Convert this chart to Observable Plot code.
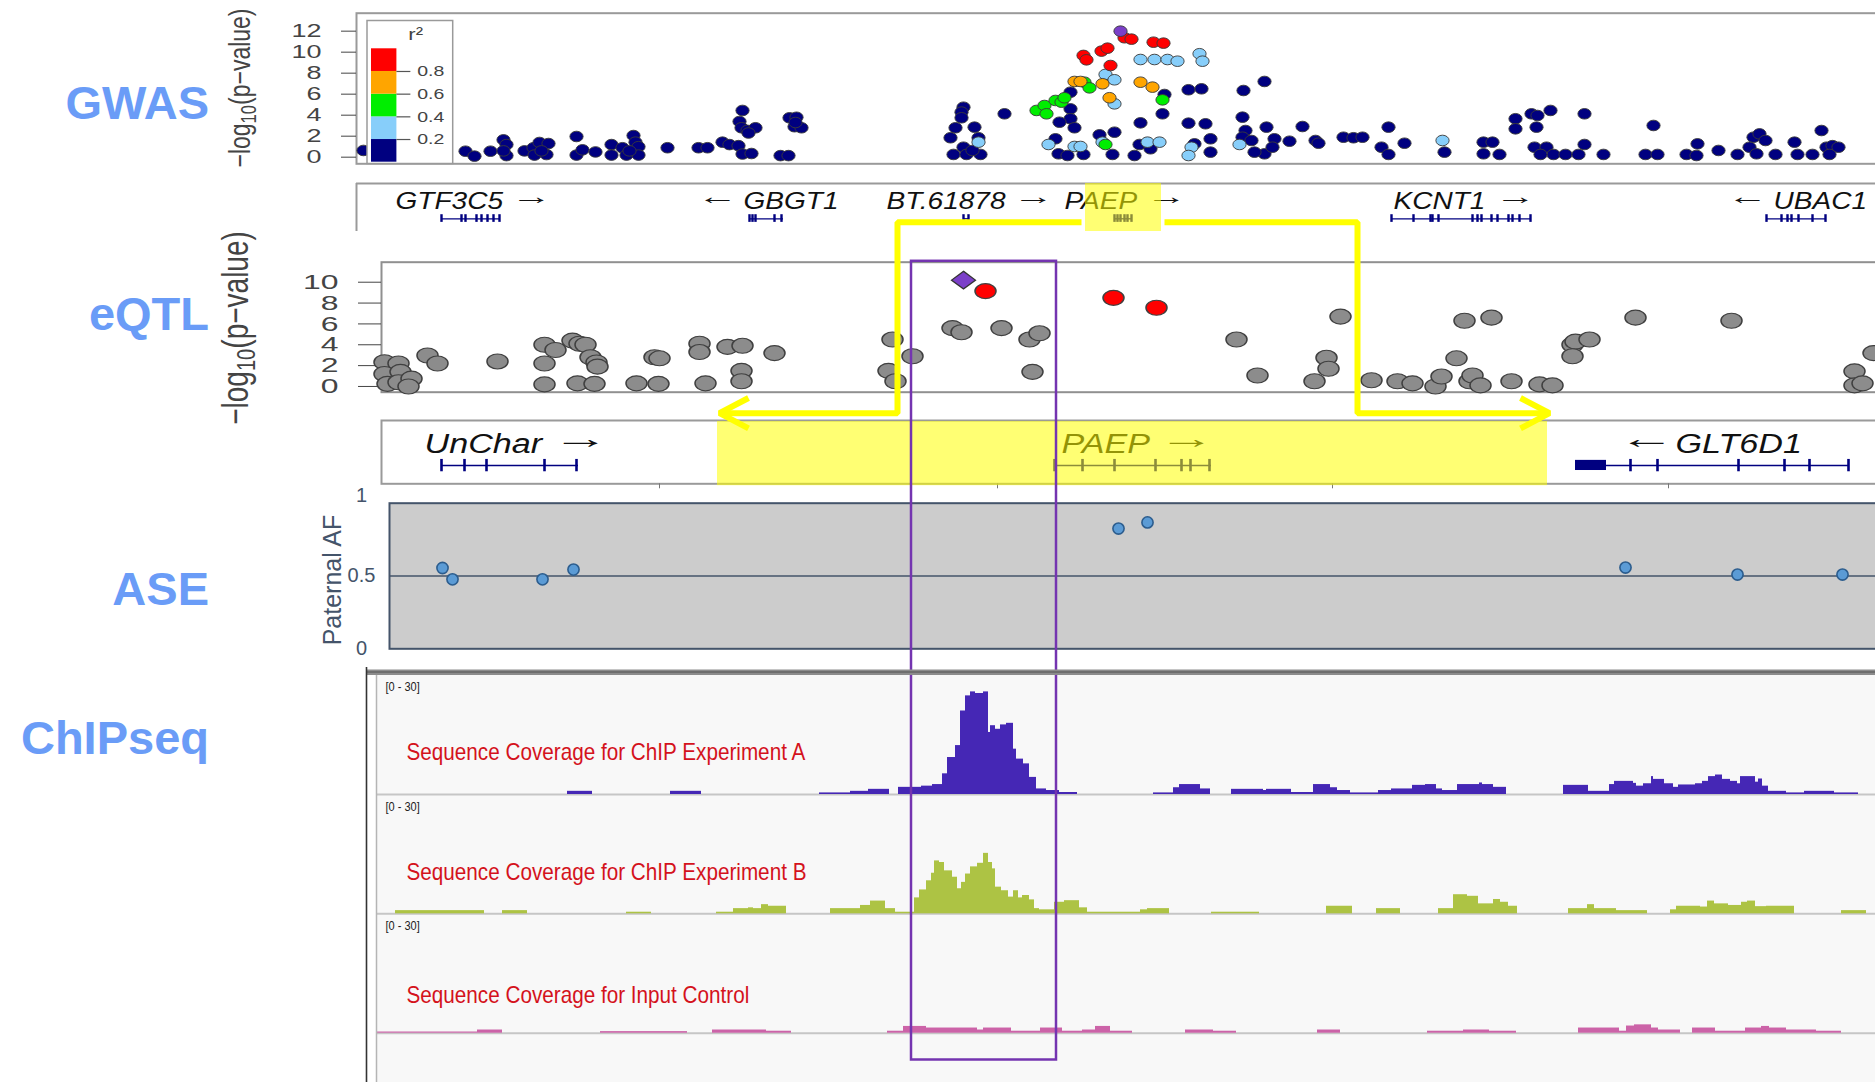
<!DOCTYPE html>
<html><head><meta charset="utf-8">
<script src="https://cdn.jsdelivr.net/npm/d3@7"></script>
<script src="https://cdn.jsdelivr.net/npm/@observablehq/plot@0.6"></script>
<style>
html,body{margin:0;padding:0;background:#fff;}
#wrap{position:relative;width:1875px;height:1082px;overflow:hidden;background:#fff;}
</style></head>
<body><div id="wrap"></div>
<script>
// ---------------- DATA ----------------
// GWAS: [position (kb from left of GWAS window), -log10 p], grouped by LD r² class
const gwasNavy = [[7,0.64],[109,0.57],[118,0.1],[134,0.57],[147,1.65],[150,1.2],[150,0.15],[147,0.6],[168,0.6],[177,0.9],[183,1.4],[178,0.2],[190,0.25],[192,1.3],[185,0.6],[220,1.97],[220,0.2],[226,0.7],[239,0.5],[255,1.2],[255,0.2],[266,0.9],[270,0.2],[277,2.06],[279,1.43],[282,1.0],[282,0.2],[273,0.6],[311,0.9],[342,0.9],[351,0.9],[366,1.43],[373,1.2],[382,1.1],[386,4.45],[383,3.4],[385,2.8],[391,2.55],[399,2.8],[392,2.3],[386,0.3],[395,0.35],[424,0.15],[432,0.15],[433,3.75],[440,3.8],[438,2.9],[445,2.8],[439,3.3],
[607,4.76],[605,4.29],[605,3.75],[599,2.8],[618,2.86],[594,1.85],[622,1.85],[607,0.95],[597,0.26],[610,0.26],[624,0.26],[616,0.64],[648,4.13],[714,6.19],[714,4.6],[714,3.66],[703,3.33],[718,2.8],[808,5.97],[806,4.13],[784,3.27],[832,6.42],[845,6.51],[887,6.35],[908,7.21],[832,3.24],[849,3.18],[886,3.81],[889,2.54],[699,1.75],[702,0.32],[711,0.16],[727,0.26],[743,2.13],[758,2.38],[756,0.26],[778,0.16],[783,1.21],[794,0.8],[838,1.27],[854,1.75],[854,0.48],[886,1.9],[895,1.59],[910,2.86],[918,1.75],[933,1.52],[908,0.32],[916,0.95],[898,0.48],[946,2.92],[959,1.59],[962,1.33],[987,1.9],[997,1.85],[1006,1.9],[1032,2.86],[1025,0.95],[1032,0.26],[1048,1.33],[1088,0.48],[1127,1.43],[1136,1.43],[1127,0.32],[1143,0.26],[1159,3.66],[1159,2.7],[1175,4.13],[1181,3.97],[1180,2.86],[1194,4.45],[1178,0.95],[1190,0.95],[1197,0.26],[1209,0.26],[1184,0.26],[1228,4.13],[1228,1.21],[1222,0.26],[1247,0.26],[1289,0.26],[1297,3.02],[1301,0.26],[1330,0.26],[1341,1.27],[1340,0.16],[1362,0.64],[1381,0.26],[1397,1.9],[1403,2.22],[1409,1.59],[1393,0.95],[1400,0.32],[1419,0.26],[1438,1.43],[1441,0.26],[1456,0.26],[1465,2.54],[1470,0.95],[1476,1.1],[1482,0.95],[1473,0.26]];
const gwasLightBlue = [[622,1.43],[749,7.88],[758,7.37],[758,5.08],[784,9.3],[798,9.3],[811,9.3],[821,9.14],[843,9.85],[846,9.14],[692,1.21],[718,1.02],[724,1.02],[746,1.43],[791,1.43],[803,1.43],[835,0.95],[832,0.16],[883,1.21],[1086,1.59]];
const gwasGreen = [[680,4.45],[688,4.92],[690,4.13],[699,5.4],[705,5.24],[708,5.66],[728,7.14],[733,6.6],[806,5.46],[749,1.21]];
const gwasOrange = [[718,7.21],[724,7.21],[746,6.99],[753,5.66],[784,7.14],[796,6.67]];
const gwasRed = [[727,9.69],[730,9.27],[745,10.1],[751,10.38],[754,8.73],[768,11.37],[775,11.24],[797,10.95],[807,10.86]];
const gwasLead = [[764,12.0]];
const gwasTicks = [0,2,4,6,8,10,12];
const r2Classes = [
  {lo:0.0, hi:0.2, color:"#000080"},
  {lo:0.2, hi:0.4, color:"#87cefa"},
  {lo:0.4, hi:0.6, color:"#00ee00"},
  {lo:0.6, hi:0.8, color:"#ffa500"},
  {lo:0.8, hi:1.0, color:"#ff0000"}
];
const r2Ticks = [0.2,0.4,0.6,0.8];
const leadColor = "#7b3fc8";

// GWAS gene track (same coordinates as GWAS)
const gwasGenes = [
  {name:"GTF3C5", namePos:39, arrow:"→", arrowPos:154, start:85, end:144},
  {name:"GBGT1", namePos:387, arrow:"←", arrowPos:340, start:393, end:427},
  {name:"BT.61878", namePos:530, arrow:"→", arrowPos:656, start:607, end:613},
  {name:"PAEP", namePos:708, arrow:"→", arrowPos:789, start:758, end:775},
  {name:"KCNT1", namePos:1037, arrow:"→", arrowPos:1138, start:1035, end:1174},
  {name:"UBAC1", namePos:1417, arrow:"←", arrowPos:1370, start:1410, end:1469}
];
const gwasExons = [85,105,109,120,125,131,137,143, 393,396,399,418,425, 607,612, 758,761,764,768,771,775,
  1035,1057,1074,1076,1082,1116,1121,1125,1135,1141,1152,1156,1163,1174, 1410,1425,1431,1435,1442,1456,1469];
const gwasHighlight = [{start:729, end:805}];

// eQTL: [position (kb, zoomed window), -log10 p]
const eqtlGray = [[9,2.33],[23,2.2],[9,1.2],[25,1.4],[12,0.25],[23,0.4],[36,0.75],[33,0.0],[52,2.97],[62,2.2],[122,2.4],[169,4.0],[180,3.5],[169,2.2],[169,0.2],[197,4.4],[204,4.1],[210,4.0],[215,2.8],[221,2.3],[222,1.9],[202,0.3],[219,0.25],[261,0.3],[279,2.8],[284,2.7],[283,0.25],[324,4.1],[324,3.3],[330,0.3],[352,3.8],[367,3.9],[366,1.5],[366,0.5],[399,3.2],[517,4.5],[537,2.9],[513,1.5],[520,0.5],[577,5.6],[586,5.2],[626,5.6],[654,4.5],[664,5.1],[657,1.4],[861,4.5],[882,1.05],[939,0.5],[951,2.75],[953,1.7],[965,6.7],[996,0.6],[1022,0.5],[1037,0.3],[1060,0.0],[1066,0.95],[1081,2.7],[1089,6.3],[1116,6.6],[1094,0.5],[1097,1.05],[1105,0.1],[1136,0.5],[1164,0.2],[1177,0.1],[1197,4.0],[1200,4.3],[1197,2.9],[1214,4.5],[1260,6.6],[1356,6.3],[1479,1.45],[1479,0.1],[1498,3.2],[1487,0.3]];
const eqtlRed = [[610,9.15],[738,8.5],[781,7.55]];
const eqtlLead = [[588,10.2]];
const eqtlTicks = [0,2,4,6,8,10];

// Lower gene track (same coordinates as eQTL / ASE / ChIP)
const lowerGenes = [
  {name:"UnChar", namePos:49, arrow:"→", arrowPos:177, start:66, end:203},
  {name:"PAEP", namePos:686, arrow:"→", arrowPos:783, start:679, end:836},
  {name:"GLT6D1", namePos:1300, arrow:"←", arrowPos:1243, start:1200, end:1474}
];
const lowerExons = [66,89,111,169,201, 679,707,739,780,806,815,834, 1255,1282,1363,1409,1434,1473];
const lowerUTR = [{start:1200, end:1231}];
const lowerHighlight = [{start:342, end:1172}];
const lowerTicks = [284,622,957,1293];

// ASE: [position, paternal allele fraction]
const ase = [[67,0.555],[77,0.477],[167,0.477],[198,0.544],[743,0.826],[772,0.868],[1250,0.558],[1362,0.51],[1467,0.51]];
const aseTicks = [0,0.5,1];

// ChIP-seq coverage bins: [start, end, coverage]
const chipA = [[192,217,0.8],[295,326,0.8],[444,475,0.4],[475,493,0.8],[493,514,1.3],[523,546,1.8],[546,557,2.1],[557,567,2.5],[567,572,5.2],[572,580,9.3],[580,585,12.3],[585,590,21],[590,595,24.8],[595,600,25.8],[600,608,25.4],[608,613,25.8],[613,615,15.6],[615,620,17.3],[620,625,16.4],[625,631,17.5],[631,638,17.9],[638,641,11.4],[641,648,8.9],[648,654,7.7],[654,661,4.3],[661,671,1.4],[671,684,1],[684,702,0.5],
[778,798,0.4],[798,804,1.7],[804,825,2.5],[825,835,1.4],[856,888,1.3],[888,891,1],[891,916,1.3],[916,938,0.5],[938,955,2.5],[955,962,1.7],[962,975,1],[975,1003,0.4],[1003,1016,1],[1016,1037,1.4],[1037,1050,2.3],[1050,1061,2.5],[1061,1067,1.4],[1067,1082,1],[1082,1104,2.5],[1104,1107,2.9],[1107,1118,2.5],[1118,1131,1.8],
[1188,1213,2.3],[1213,1234,0.8],[1234,1239,2.5],[1239,1258,3.3],[1258,1261,2.8],[1261,1268,2.1],[1268,1276,2.7],[1276,1278,4.5],[1278,1289,3.8],[1289,1298,2.7],[1298,1303,1.8],[1303,1320,2.4],[1320,1327,2.7],[1327,1333,3.3],[1333,1340,4.5],[1340,1347,4.9],[1347,1355,3.8],[1355,1362,3.3],[1362,1365,2.7],[1365,1380,4.5],[1380,1383,3.1],[1383,1387,3.9],[1387,1393,2.1],[1393,1411,0.8],[1411,1429,0.4],[1429,1459,0.8],[1459,1483,0.4]];
const chipB = [[20,109,0.8],[127,152,0.8],[251,276,0.4],[341,358,0.4],[358,373,1.3],[373,378,1.5],[378,386,1.3],[386,393,2.3],[393,411,1.9],[455,485,1.3],[485,495,2.1],[495,510,3.2],[510,520,1.3],[520,539,0.4],[539,544,4],[544,551,6],[551,556,8.3],[556,559,10.2],[559,564,13.3],[564,569,12.9],[569,577,10.8],[577,582,9.2],[582,586,6.3],[586,590,7.9],[590,595,10],[595,602,11.8],[602,608,12.7],[608,613,15.2],[613,617,12.9],[617,620,11.3],[620,626,6.7],[626,633,5.8],[633,638,4.2],[638,643,5.8],[643,647,4],[647,654,4.6],[654,659,3.5],[659,664,1.3],[664,679,1],[679,689,2.9],[689,704,3.3],[704,712,1.5],[712,765,0.4],[765,772,1],[772,794,1.3],[836,884,0.4],[951,977,1.9],[1001,1025,1.3],[1063,1078,1.3],[1078,1092,4.8],[1092,1103,4.4],[1103,1118,2.5],[1118,1125,3.6],[1125,1133,2.9],[1133,1142,1.9],[1193,1212,1.3],[1212,1219,2.3],[1219,1241,1.3],[1241,1272,0.8],[1295,1301,1],[1301,1325,1.9],[1325,1332,1.7],[1332,1339,3.2],[1339,1353,2.5],[1353,1366,2.1],[1366,1372,2.9],[1372,1380,3.2],[1380,1391,1.8],[1391,1419,1.9],[1466,1491,0.8]];
const chipInput = [[2,102,0.3],[102,127,0.8],[225,312,0.4],[337,391,0.8],[391,416,0.5],[512,528,0.5],[528,551,1.7],[551,602,1.3],[602,608,0.8],[608,636,1.3],[636,665,0.5],[665,687,1.3],[687,707,0.5],[707,720,0.8],[720,735,1.7],[735,757,0.5],[810,838,0.8],[838,861,0.5],[942,965,0.8],[1052,1088,0.5],[1088,1114,0.8],[1114,1141,0.5],[1203,1244,1.3],[1244,1251,0.5],[1251,1259,1.8],[1259,1276,2.1],[1276,1283,1.3],[1283,1305,0.8],[1317,1340,1.3],[1340,1370,0.5],[1370,1386,1.3],[1386,1394,1.7],[1394,1411,1.3],[1411,1441,0.8],[1441,1466,0.5]];
const chipTracks = [
  {label:"Sequence Coverage for ChIP Experiment A", color:"#4527b5", bins:chipA},
  {label:"Sequence Coverage for ChIP Experiment B", color:"#adc344", bins:chipB},
  {label:"Sequence Coverage for Input Control", color:"#cc63a8", bins:chipInput}
];
const chipRange = "[0 - 30]";

// Annotations (lower-window x, page-row y)
const connector = [
  {seg:"L",x:706,y:221.7},{seg:"L",x:522,y:221.7},{seg:"L",x:522,y:412.7},{seg:"L",x:346,y:412.7},
  {seg:"LA",x:373,y:397.5},{seg:"LA",x:344,y:412.7},{seg:"LA",x:373,y:427.9},
  {seg:"R",x:789,y:221.7},{seg:"R",x:982,y:221.7},{seg:"R",x:982,y:412.7},{seg:"R",x:1172,y:412.7},
  {seg:"RA",x:1145,y:397.5},{seg:"RA",x:1174,y:412.7},{seg:"RA",x:1145,y:427.9}
];
const focusBox = [{start:536, end:681, top:260.8, bottom:1059.5}];
const sectionLabels = [{text:"GWAS", y:119},{text:"eQTL", y:330},{text:"ASE", y:605},{text:"ChIPseq", y:754}];

// ---------------- HELPERS ----------------
const wrap = document.getElementById("wrap");
const FONT = "'Liberation Sans', Arial, Helvetica, sans-serif";
const base = {position:"absolute", left:"0px", top:"0px", background:"transparent", maxWidth:"none", overflow:"visible", fontFamily:FONT, color:"#444"};
function add(node){ wrap.appendChild(node); return node; }
function stretchEl(el, sx, sy){
  if (el.tagName === "circle") {
    const cx = +el.getAttribute("cx"), cy = +el.getAttribute("cy");
    el.setAttribute("transform", `translate(${cx},${cy}) scale(${sx},${sy}) translate(${-cx},${-cy})`);
  } else {
    const t = el.getAttribute("transform") || "";
    const x = parseFloat(el.getAttribute("x")) || 0;
    el.setAttribute("transform", `${t} translate(${x},0) scale(${sx},${sy}) translate(${-x},0)`);
  }
}
function marked(svg, name){
  const els = [];
  svg.querySelectorAll(`g[aria-description="${name}"], g[aria-label="${name}"]`).forEach(g =>
    g.querySelectorAll("circle,path,text").forEach(c => els.push(c)));
  return els;
}
function stretch(svg, name, sx, sy=1){ marked(svg, name).forEach(el => stretchEl(el, sx, sy)); }
function stretchToWidth(svg, name, w){ marked(svg, name).forEach(el => { const L = el.getComputedTextLength(); if (L > 0) stretchEl(el, w / L, 1); }); }
const X = d => d[0], Y = d => d[1];
const W = 1890, H = 1082;

// ---------------- UNDERLAY (ChIP background) ----------------
const underSvg = d3.create("svg").attr("width",1875).attr("height",H).style("position","absolute").style("left","0").style("top","0");
underSvg.append("rect").attr("x",377).attr("y",675).attr("width",1498).attr("height",407).attr("fill","#f8f8f8");
add(underSvg.node());

// ---------------- GWAS ----------------
const dotOpts = {x:X, y:Y, r:5.3, stroke:"#3a3a3a", strokeWidth:0.8, ariaDescription:"gwas-dots"};
const gwas = Plot.plot({
  width:W, height:H, marginLeft:356, marginRight:0, marginTop:12.7, marginBottom:H-163.3, style:base,
  x:{domain:[0,1534], axis:null}, y:{domain:[-0.63,13.71], label:null},
  marks:[
    Plot.frame({stroke:"#9a9a9a", strokeWidth:2}),
    Plot.axisY({ticks:gwasTicks, tickSize:15, tickPadding:20, fontSize:19, label:null}),
    Plot.dot(gwasNavy, {...dotOpts, fill:r2Classes[0].color}),
    Plot.dot(gwasLightBlue, {...dotOpts, fill:r2Classes[1].color}),
    Plot.dot(gwasGreen, {...dotOpts, fill:r2Classes[2].color}),
    Plot.dot(gwasOrange, {...dotOpts, fill:r2Classes[3].color}),
    Plot.dot(gwasRed, {...dotOpts, fill:r2Classes[4].color}),
    Plot.dot(gwasLead, {...dotOpts, fill:leadColor})
  ]
});
stretch(gwas, "gwas-dots", 1.25);
stretch(gwas, "y-axis tick label", 1.42);
add(gwas);

// Legend (r² colour key)
const legend = Plot.plot({
  width:1875, height:H, marginLeft:366.5, marginRight:1875-452.2, marginTop:20, marginBottom:H-163, style:base,
  x:{domain:[0,1], range:[371,396.4], axis:null}, y:{domain:[0,1], range:[161.7,48.3], axis:null},
  marks:[
    Plot.frame({fill:"#fff", stroke:"#9a9a9a", strokeWidth:1.5}),
    Plot.rect(r2Classes, {x1:()=>0, x2:()=>1, y1:"lo", y2:"hi", fill:"color"}),
    Plot.ruleY(r2Ticks, {y:d=>d, x1:()=>1, x2:()=>1.55, stroke:"#555", strokeWidth:1.2}),
    Plot.text(r2Ticks, {y:d=>d, x:()=>1.8, text:d=>d.toFixed(1), textAnchor:"start", fontSize:15, fill:"#444", ariaDescription:"leg-text"}),
    Plot.text(["r²"], {x:()=>1.45, y:()=>1.13, text:d=>d, textAnchor:"start", fontSize:17, fill:"#444", ariaDescription:"leg-text"})
  ]
});
stretch(legend, "leg-text", 1.3);
add(legend);

// GWAS gene track
const genes1 = Plot.plot({
  width:W, height:H, marginLeft:356, marginRight:0, marginTop:183, marginBottom:H-231, style:base,
  x:{domain:[0,1534], axis:null}, y:{domain:[0,1], axis:null},
  marks:[
    Plot.ruleY([1], {stroke:"#9a9a9a", strokeWidth:2}),
    Plot.ruleX([0], {y1:()=>0, y2:()=>1, stroke:"#9a9a9a", strokeWidth:2}),
    Plot.ruleY(gwasGenes, {y:()=>0.265, x1:"start", x2:"end", stroke:"#000080", strokeWidth:1.3}),
    Plot.ruleX(gwasExons, {x:d=>d, y1:()=>0.19, y2:()=>0.35, stroke:"#000080", strokeWidth:2.4}),
    Plot.text(gwasGenes, {x:"namePos", y:()=>0.63, text:"name", textAnchor:"start", fontSize:23, fontStyle:"italic", fill:"#111", ariaDescription:"gene-label"}),
    Plot.text(gwasGenes, {x:"arrowPos", y:()=>0.63, dy:-4.5, text:"arrow", textAnchor:"start", fontSize:23, fill:"#111", ariaDescription:"gene-arrow"}),
    Plot.rect(gwasHighlight, {x1:"start", x2:"end", y1:()=>0, y2:()=>1, fill:"#ffff00", fillOpacity:0.55})
  ]
});
add(genes1);
stretch(genes1, "gene-label", 1.22);
stretchToWidth(genes1, "gene-arrow", 41);

// ---------------- eQTL ----------------
const eqtl = Plot.plot({
  width:W, height:H, marginLeft:381, marginRight:0, marginTop:261.7, marginBottom:H-391.7, style:base,
  x:{domain:[6,1515], axis:null}, y:{domain:[-0.55,11.92], label:null},
  marks:[
    Plot.frame({stroke:"#909090", strokeWidth:2}),
    Plot.axisY({ticks:eqtlTicks, tickSize:23, tickPadding:20, fontSize:21, label:null}),
    Plot.dot(eqtlGray, {x:X, y:Y, r:7.5, fill:"#8c8c8c", stroke:"#404040", strokeWidth:1.1, ariaDescription:"eqtl-dots"}),
    Plot.dot(eqtlRed, {x:X, y:Y, r:7.5, fill:"#ff0000", stroke:"#404040", strokeWidth:1.1, ariaDescription:"eqtl-dots"}),
    Plot.dot(eqtlLead, {x:X, y:Y, symbol:"diamond2", r:8, fill:leadColor, stroke:"#333", strokeWidth:1.1, ariaDescription:"eqtl-lead"})
  ]
});
stretch(eqtl, "eqtl-dots", 1.4);
stretch(eqtl, "eqtl-lead", 1.35);
stretch(eqtl, "y-axis tick label", 1.52);
add(eqtl);

// Lower gene track
const genes2 = Plot.plot({
  width:W, height:H, marginLeft:381, marginRight:0, marginTop:420, marginBottom:H-483.3, style:base,
  x:{domain:[6,1515]}, y:{domain:[0,1], axis:null},
  marks:[
    Plot.frame({stroke:"#9a9a9a", strokeWidth:2}),
    Plot.axisX({ticks:lowerTicks, tickSize:5, tickFormat:()=>"", label:null, stroke:"#777"}),
    Plot.ruleY(lowerGenes, {y:()=>0.289, x1:"start", x2:"end", stroke:"#000080", strokeWidth:1.6}),
    Plot.rect(lowerUTR, {x1:"start", x2:"end", y1:()=>0.21, y2:()=>0.37, fill:"#000080"}),
    Plot.ruleX(lowerExons, {x:d=>d, y1:()=>0.19, y2:()=>0.385, stroke:"#000080", strokeWidth:2.6}),
    Plot.text(lowerGenes, {x:"namePos", y:()=>0.632, text:"name", textAnchor:"start", fontSize:28, fontStyle:"italic", fill:"#111", ariaDescription:"gene-label"}),
    Plot.text(lowerGenes, {x:"arrowPos", y:()=>0.632, dy:-4.5, text:"arrow", textAnchor:"start", fontSize:28, fill:"#111", ariaDescription:"gene-arrow"}),
    Plot.rect(lowerHighlight, {x1:"start", x2:"end", y1:()=>-0.03, y2:()=>0.985, fill:"#ffff00", fillOpacity:0.55})
  ]
});
add(genes2);
stretch(genes2, "gene-label", 1.22);
stretchToWidth(genes2, "gene-arrow", 57);

// ---------------- ASE ----------------
const asePlot = Plot.plot({
  width:W, height:H, marginLeft:389, marginRight:0, marginTop:502.7, marginBottom:H-648.3, style:base,
  x:{domain:[14,1515], axis:null}, y:{domain:[0,1], axis:null},
  marks:[
    Plot.frame({fill:"#cccccc", stroke:"#44546a", strokeWidth:2}),
    Plot.ruleY([0.5], {stroke:"#44546a", strokeWidth:1.5}),
    Plot.dot(ase, {x:X, y:Y, r:5.6, fill:"#5b9bd5", stroke:"#2c5d8e", strokeWidth:1.6}),
    Plot.text(aseTicks.filter(d => d < 1), {y:d=>d, text:d=>String(d), frameAnchor:"left", dx:-28, textAnchor:"middle", fontSize:20, fill:"#44546a"}),
    Plot.text(aseTicks.filter(d => d === 1), {y:d=>d, text:d=>String(d), frameAnchor:"left", dx:-28, dy:-8, textAnchor:"middle", fontSize:20, fill:"#44546a"})
  ]
});
add(asePlot);

// ---------------- ChIP-seq tracks ----------------
const trackTops = [674.7, 794, 913.3], trackBottoms = [794, 913.3, 1032.7], labelDy = [77, 78, 82];
chipTracks.forEach((t, i) => {
  const p = Plot.plot({
    width:W, height:H, marginLeft:377, marginRight:0, marginTop:trackTops[i], marginBottom:H-trackBottoms[i], style:base,
    x:{domain:[2,1515], axis:null}, y:{domain:[0,30], axis:null},
    marks:[
      Plot.ruleY([0], {stroke:"#c6c6c6", strokeWidth:2}),
      Plot.rect(t.bins, {x1:d=>d[0], x2:d=>d[1], y1:()=>0, y2:d=>d[2], fill:t.color}),
      Plot.text([chipRange], {frameAnchor:"top-left", lineAnchor:"middle", dx:8, dy:12, text:d=>d, textAnchor:"start", fontSize:12.5, fill:"#222", ariaDescription:"chip-range"}),
      Plot.text([t.label], {frameAnchor:"top-left", lineAnchor:"middle", dx:29, dy:labelDy[i], text:d=>d, textAnchor:"start", fontSize:23, fill:"#d4121c", ariaDescription:"chip-label"})
    ]
  });
  stretch(p, "chip-label", 0.9);
  stretch(p, "chip-range", 0.88);
  add(p);
});

// ---------------- Overlay annotations ----------------
const overlay = Plot.plot({
  width:1875, height:H, margin:0, style:base,
  x:{domain:[0,1500], range:[375,1875], axis:null}, y:{domain:[0,H], range:[0,H], axis:null},
  marks:[
    Plot.line(connector, {x:"x", y:"y", z:"seg", stroke:"#ffff00", strokeWidth:6, strokeLinejoin:"miter", strokeLinecap:"butt"}),
    Plot.rect(focusBox, {x1:"start", x2:"end", y1:"top", y2:"bottom", fill:"none", stroke:"#7434b0", strokeWidth:2.5})
  ]
});
add(overlay);

// ---------------- Labels & frame decorations ----------------
const overSvg = d3.create("svg").attr("width",1875).attr("height",H).style("position","absolute").style("left","0").style("top","0").style("font-family",FONT);
overSvg.append("rect").attr("x",367).attr("y",669.5).attr("width",1510).attr("height",5.5).attr("fill","#8c8c8c");
overSvg.append("rect").attr("x",367).attr("y",671).attr("width",1510).attr("height",2).attr("fill","#6e6e6e");
overSvg.append("line").attr("x1",366.5).attr("x2",366.5).attr("y1",667).attr("y2",H).attr("stroke","#333").attr("stroke-width",1.6);
overSvg.append("line").attr("x1",376.5).attr("x2",376.5).attr("y1",675).attr("y2",H).attr("stroke","#b5b5b5").attr("stroke-width",1.5);
overSvg.selectAll("text.sec").data(sectionLabels).join("text").attr("class","sec")
  .attr("x",209).attr("y",d=>d.y).attr("text-anchor","end").attr("font-size",47).attr("font-weight","bold").attr("fill","#6a9cf7").text(d=>d.text);
function logTitle(cx, cy, size, sy){
  const t = overSvg.append("text").attr("transform",`translate(${cx},${cy}) rotate(-90) scale(1,${sy})`)
    .attr("text-anchor","middle").attr("dominant-baseline","central").attr("font-size",size).attr("fill","#444");
  t.append("tspan").text("−log");
  t.append("tspan").attr("font-size",size*0.72).attr("dy",size*0.28).text("10");
  t.append("tspan").attr("dy",-size*0.28).text("(p−value)");
}
logTitle(240, 88, 23, 1.3);
logTitle(236, 328, 28, 1.3);
overSvg.append("text").attr("transform","translate(332,580) rotate(-90)").attr("text-anchor","middle").attr("dominant-baseline","central")
  .attr("font-size",25).attr("fill","#44546a").text("Paternal AF");
add(overSvg.node());
</script>
</body></html>
